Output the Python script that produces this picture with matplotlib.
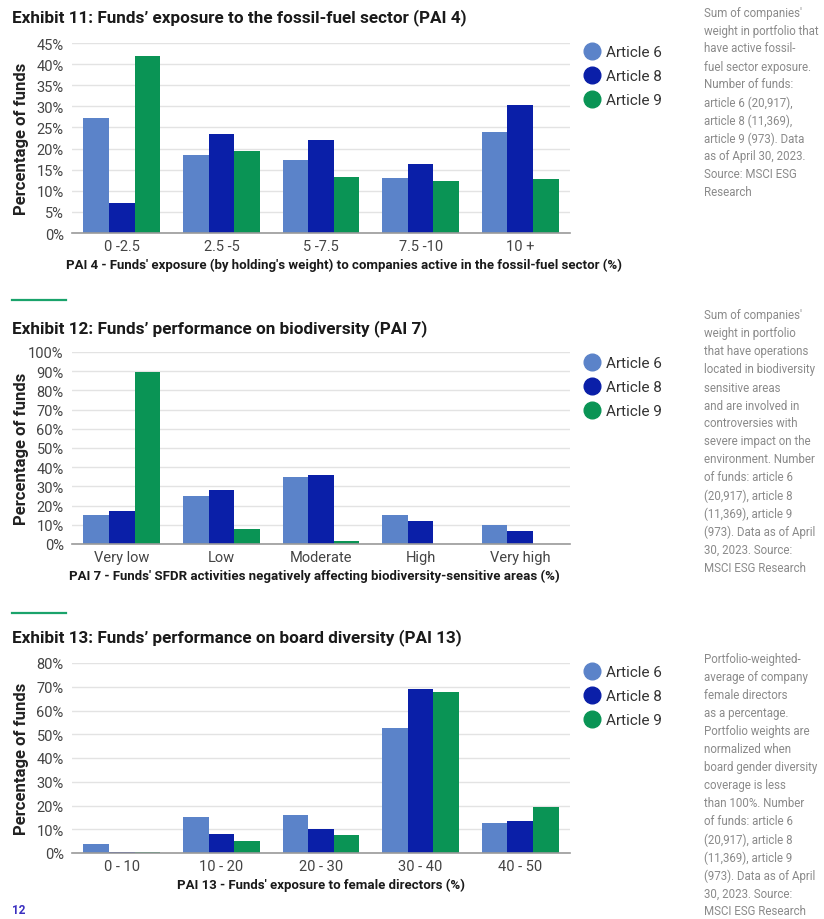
import matplotlib.pyplot as plt
from matplotlib.lines import Line2D
import numpy as np

plt.rcParams['font.family'] = ['Roboto', 'DejaVu Sans']

series = ['Article 6', 'Article 8', 'Article 9']
colors = ['#5b83c9', '#0a1fa8', '#0a9455']

# Exhibit 11 - fossil fuel (PAI 4)
cats_11 = ['0 -2.5', '2.5 -5', '5 -7.5', '7.5 -10', '10 +']
art6_11 = [27.2, 18.5, 17.3, 13.0, 23.9]
art8_11 = [7.1, 23.5, 22.1, 16.4, 30.3]
art9_11 = [42.0, 19.5, 13.2, 12.2, 12.7]

# Exhibit 12 - biodiversity (PAI 7)
cats_12 = ['Very low', 'Low', 'Moderate', 'High', 'Very high']
art6_12 = [15.1, 24.9, 35.1, 15.1, 9.9]
art8_12 = [17.0, 28.0, 36.0, 11.8, 6.8]
art9_12 = [89.7, 7.8, 1.7, 0.0, 0.0]

# Exhibit 13 - board diversity (PAI 13)
cats_13 = ['0 - 10', '10 - 20', '20 - 30', '30 - 40', '40 - 50']
art6_13 = [3.8, 15.3, 15.9, 52.5, 12.8]
art8_13 = [0.3, 8.0, 10.0, 68.9, 13.3]
art9_13 = [0.3, 4.9, 7.7, 67.9, 19.5]

notes_11 = ["Sum of companies'", "weight in portfolio that", "have active fossil-",
            "fuel sector exposure.", "Number of funds:", "article 6 (20,917),",
            "article 8 (11,369),", "article 9 (973). Data", "as of April 30, 2023.",
            "Source: MSCI ESG", "Research"]
notes_12 = ["Sum of companies'", "weight in portfolio", "that have operations",
            "located in biodiversity", "sensitive areas", "and are involved in",
            "controversies with", "severe impact on the", "environment. Number",
            "of funds: article 6", "(20,917), article 8", "(11,369), article 9",
            "(973). Data as of April", "30, 2023. Source:", "MSCI ESG Research"]
notes_13 = ["Portfolio-weighted-", "average of company", "female directors",
            "as a percentage.", "Portfolio weights are", "normalized when",
            "board gender diversity", "coverage is less", "than 100%. Number",
            "of funds: article 6", "(20,917), article 8", "(11,369), article 9",
            "(973). Data as of April", "30, 2023. Source:", "MSCI ESG Research"]

W, H = 824, 920
fig = plt.figure(figsize=(W / 100, H / 100), dpi=100)
fig.patch.set_facecolor('white')


def px(x, y):
    return x / W, 1 - y / H


charts = [
    dict(title="Exhibit 11: Funds\u2019 exposure to the fossil-fuel sector (PAI 4)",
         cats=cats_11, vals=[art6_11, art8_11, art9_11], top=44, bottom=234,
         ymax=45, step=5, title_y=18, xlabel_x=344, xlabel_y=265,
         xlabel="PAI 4 - Funds' exposure (by holding's weight) to companies active in the fossil-fuel sector (%)",
         leg_y=53, notes=notes_11, note_y=13, sep_y=None),
    dict(title="Exhibit 12: Funds\u2019 performance on biodiversity (PAI 7)",
         cats=cats_12, vals=[art6_12, art8_12, art9_12], top=353, bottom=545,
         ymax=100, step=10, title_y=329, xlabel_x=314, xlabel_y=576,
         xlabel="PAI 7 - Funds' SFDR activities negatively affecting biodiversity-sensitive areas (%)",
         leg_y=364, notes=notes_12, note_y=316, sep_y=301),
    dict(title="Exhibit 13: Funds\u2019 performance on board diversity (PAI 13)",
         cats=cats_13, vals=[art6_13, art8_13, art9_13], top=664, bottom=854,
         ymax=80, step=10, title_y=638, xlabel_x=321, xlabel_y=885,
         xlabel="PAI 13 - Funds' exposure to female directors (%)",
         leg_y=673, notes=notes_13, note_y=660, sep_y=614),
]

left, right = 72, 570
bw = 0.257
for c in charts:
    ax = fig.add_axes([left / W, 1 - c['bottom'] / H, (right - left) / W,
                       (c['bottom'] - c['top']) / H])
    x = np.arange(len(c['cats']))
    for i, (vals, col) in enumerate(zip(c['vals'], colors)):
        ax.bar(x + (i - 1) * bw, vals, width=bw, color=col, zorder=3)
    ax.set_xlim(-0.5, len(c['cats']) - 0.5)
    ax.set_ylim(0, c['ymax'])
    ticks = np.arange(0, c['ymax'] + 0.1, c['step'])
    ax.set_yticks(ticks)
    ax.set_yticklabels([f"{int(t)}%" for t in ticks])
    ax.set_xticks(x)
    ax.set_xticklabels(c['cats'])
    ax.tick_params(axis='both', length=0, labelsize=10.5, colors='#444444')
    ax.tick_params(axis='y', pad=6)
    ax.tick_params(axis='x', pad=4)
    ax.grid(axis='y', color='#e3e3e3', linewidth=1, zorder=0)
    for s in ['top', 'right', 'left']:
        ax.spines[s].set_visible(False)
    ax.spines['bottom'].set_color('#9a9a9a')
    ax.spines['bottom'].set_linewidth(1.2)
    ax.spines['bottom'].set_zorder(4)

    fig.text(*px(22, (c['top'] + c['bottom']) / 2), 'Percentage of funds',
             rotation=90, ha='center', va='center', fontsize=12,
             fontweight='bold', color='#222222')
    fig.text(*px(12, c['title_y']), c['title'], ha='left', va='center',
             fontsize=12.3, fontweight='bold', color='#1a1a1a')
    fig.text(*px(c['xlabel_x'], c['xlabel_y']), c['xlabel'], ha='center',
             va='center', fontsize=9.5, fontweight='bold', color='#1a1a1a')

    handles = [Line2D([], [], marker='o', linestyle='none', markersize=12,
                      markerfacecolor=col, markeredgecolor=col) for col in colors]
    fig.legend(handles, series, loc='upper left',
               bbox_to_anchor=px(577, c['leg_y'] - 13), frameon=False,
               fontsize=11, handletextpad=0.3, labelspacing=0.65,
               borderaxespad=0, handlelength=1.2, labelcolor='#333333')

    for k, line in enumerate(c['notes']):
        fig.text(*px(704, c['note_y'] + 18 * k), line, ha='left', va='center',
                 fontsize=8.3, color='#8a8a8a')

    if c['sep_y'] is not None:
        fig.add_artist(Line2D([12 / W, 66 / W], [1 - c['sep_y'] / H] * 2,
                              color='#1aa36b', linewidth=1.6))

fig.text(*px(12, 911), '12', ha='left', va='center', fontsize=8.5,
         fontweight='bold', color='#3a2fc0')

fig.savefig('out.png', dpi=100, facecolor='white')
